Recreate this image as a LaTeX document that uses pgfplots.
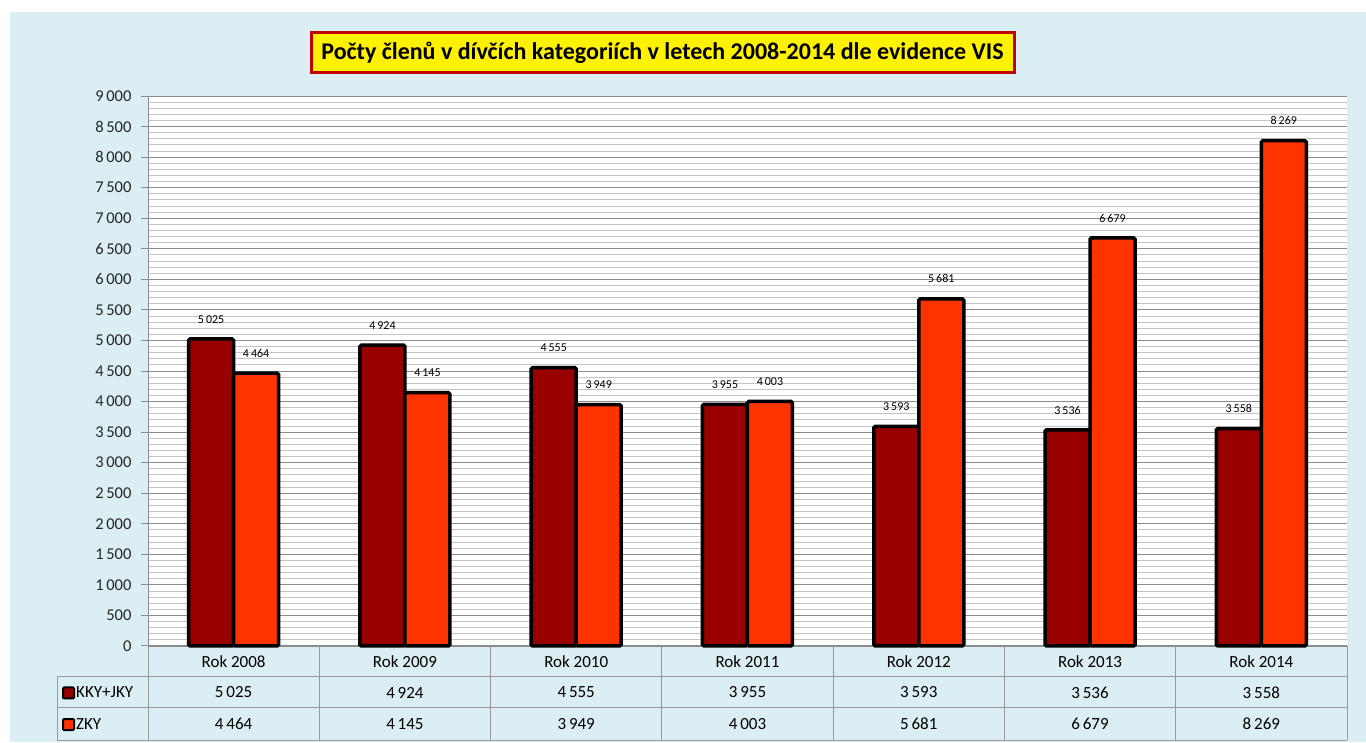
\documentclass[border=0pt]{standalone}
\usepackage{pgfplots}
\pgfplotsset{compat=1.18}
\usepackage{fontspec}
\setmainfont{Carlito}
\definecolor{bg}{HTML}{DAEEF3}
\definecolor{kky}{HTML}{990000}
\definecolor{zky}{HTML}{FF3300}
\definecolor{titleborder}{HTML}{C00000}
\definecolor{gridmaj}{HTML}{8C8C8C}
\definecolor{gridmin}{HTML}{C4C4C4}
\definecolor{tablegrid}{HTML}{9A9A9A}
\begin{document}
\begin{tikzpicture}[x=1pt,y=1pt]
\fill[white] (0,0) rectangle (1366,742);
\fill[bg] (10,0) rectangle (1366,730);
\fill[white] (148,96) rectangle (1347,646);
\begin{axis}[
  at={(148pt,96pt)}, anchor=south west,
  width=1199pt, height=550pt, scale only axis,
  xmin=0, xmax=7, ymin=0, ymax=9000,
  ybar=0pt, bar width=45pt,
  axis x line*=bottom, axis y line*=left,
  axis line style={draw=gridmaj, line width=1pt, -},
  xtick=\empty,
  ytick distance=500, minor y tick num=4,
  ymajorgrids, yminorgrids,
  major grid style={draw=gridmaj, line width=0.9pt},
  minor grid style={draw=gridmin, line width=1pt},
  tick align=outside, major tick length=7pt, minor tick length=0pt,
  tick style={draw=gridmaj, line width=1pt},
  ytick pos=left,
  yticklabel style={font=\fontsize{16.5}{16.5}\selectfont, text=black!85, xshift=-6pt},
  /pgf/number format/1000 sep={\,},
  /pgf/number format/assume math mode=true,
  nodes near coords,
  every node near coord/.append style={font=\fontsize{12}{12}\selectfont, anchor=south, yshift=14pt, inner sep=0pt, text=black},
  clip=false,
]
\addplot[fill=kky, draw=black, line width=3.5pt, rounded corners=1.5pt] coordinates {
  (0.5,5025) (1.5,4924) (2.5,4555) (3.5,3955) (4.5,3593) (5.5,3536) (6.5,3558)};
\addplot[fill=zky, draw=black, line width=3.5pt, rounded corners=1.5pt] coordinates {
  (0.5,4464) (1.5,4145) (2.5,3949) (3.5,4003) (4.5,5681) (5.5,6679) (6.5,8269)};
\end{axis}
% data table
\draw[tablegrid, line width=1pt] (57,65) -- (1347,65);
\draw[tablegrid, line width=1pt] (57,34) -- (1347,34);
\draw[tablegrid, line width=1pt] (57,2) -- (1347,2);
\draw[tablegrid, line width=1pt] (57,65) -- (57,2);
\foreach \k in {0,...,7} {
  \draw[tablegrid, line width=1pt] ({148+\k*171.2857},96) -- ({148+\k*171.2857},2);
}
\foreach \lab [count=\i from 0] in {Rok 2008,Rok 2009,Rok 2010,Rok 2011,Rok 2012,Rok 2013,Rok 2014} {
  \node[font=\fontsize{17}{17}\selectfont, inner sep=0pt] at ({148+(\i+0.5)*171.2857},80.5) {\lab};
}
\foreach \v [count=\i from 0] in {5\,025,4\,924,4\,555,3\,955,3\,593,3\,536,3\,558} {
  \node[font=\fontsize{17}{17}\selectfont, inner sep=0pt] at ({148+(\i+0.5)*171.2857},49.5) {\v};
}
\foreach \v [count=\i from 0] in {4\,464,4\,145,3\,949,4\,003,5\,681,6\,679,8\,269} {
  \node[font=\fontsize{17}{17}\selectfont, inner sep=0pt] at ({148+(\i+0.5)*171.2857},18) {\v};
}
\filldraw[fill=kky, draw=black, line width=2pt, rounded corners=1pt] (63,43.5) rectangle (74,54.5);
\node[font=\fontsize{17}{17}\selectfont, anchor=west, inner sep=0pt] at (76,49.5) {KKY+JKY};
\filldraw[fill=zky, draw=black, line width=2pt, rounded corners=1pt] (63,12) rectangle (74,23);
\node[font=\fontsize{17}{17}\selectfont, anchor=west, inner sep=0pt] at (76,18) {ZKY};
% title
\node[draw=titleborder, line width=3pt, fill=yellow, font=\bfseries\fontsize{24}{24}\selectfont,
  minimum width=703pt, minimum height=40pt, inner sep=0pt] at (662.5,689)
  {Počty členů v dívčích kategoriích v letech 2008-2014 dle evidence VIS};
\end{tikzpicture}
\end{document}
